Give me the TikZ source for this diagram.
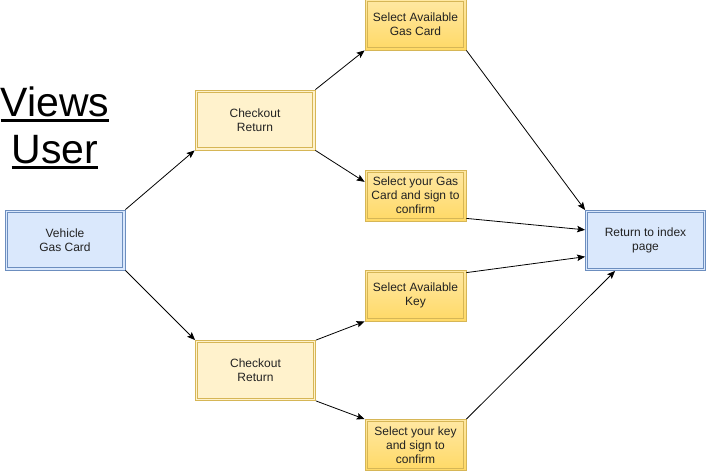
\documentclass[tikz,border=0pt]{standalone}
\usepackage{fontspec}
\setmainfont{Liberation Sans}
\usepackage{tikz}
\usetikzlibrary{shapes,positioning,calc}
\usetikzlibrary{arrows.meta}
\definecolor{bluefill}{HTML}{DAE8FC}
\definecolor{blueline}{HTML}{6C8EBF}
\definecolor{yelfill}{HTML}{FFF2CC}
\definecolor{yelline}{HTML}{D6B656}
\definecolor{yeldark}{HTML}{FFD966}
\definecolor{txt}{HTML}{222222}
\newcommand{\thickul}[1]{\setbox0=\hbox{#1}\rlap{\rule[-5.5pt]{\wd0}{3.5pt}}\box0}
\tikzset{dbl/.style={path picture={\draw[#1, line width=0.8pt] ([shift={(2.2pt,-2.2pt)}]path picture bounding box.north west) rectangle ([shift={(-2.2pt,2.2pt)}]path picture bounding box.south east);}}}
\tikzstyle{vista} = [rectangle, minimum width=120pt, minimum height=60pt, inner sep=0pt, text centered, align=center, draw=blueline, line width=0.8pt, fill=bluefill, dbl=blueline, text=txt, font=\fontsize{12}{14}\selectfont]
\tikzstyle{checkout} = [rectangle, minimum width=120pt, minimum height=60pt, inner sep=0pt, text centered, align=center, draw=yelline, line width=0.8pt, fill=yelfill, dbl=yelline, text=txt, font=\fontsize{12}{14}\selectfont]
\tikzstyle{scelta} = [rectangle, minimum width=101pt, minimum height=51pt, inner sep=0pt, text centered, align=center, draw=yelline, line width=0.8pt, top color=yelfill!60!yeldark, bottom color=yeldark, dbl=yelline, text=txt, font=\fontsize{12}{14}\selectfont]
\tikzstyle{arrow} = [line width=0.8pt,-{Stealth[length=8pt,width=6.5pt,inset=1.5pt]}]
\begin{document}
\begin{tikzpicture}[x=1pt,y=-1pt]
				\useasboundingbox (0,0) rectangle (706,472);
				\node (titolo) at (55,128) [align=center, inner sep=0pt, font=\fontsize{41}{47}\selectfont] {\thickul{Views}\\\thickul{User}};
				\node (veicolo) at (65,240) [vista] {Vehicle\\Gas Card};
				\node (ritorno) at (645.5,240.5) [vista] {Return to index\\page};
				\node (co1) at (255,120) [checkout] {Checkout\\Return};
				\node (co2) at (255.5,370.5) [checkout] {Checkout\\Return};
				\node (gas1) at (415.5,24.5) [scelta] {Select Available\\Gas Card};
				\node (gas2) at (415.5,195.5) [scelta] {Select your Gas\\Card and sign to\\confirm};
				\node (key1) at (415.5,295.5) [scelta] {Select Available\\Key};
				\node (key2) at (415.5,445) [scelta] {Select your key\\and sign to\\confirm};
				\draw [arrow] (veicolo.north east) -- (co1.south west);
				\draw [arrow] (veicolo.south east) -- (co2.north west);
				\draw [arrow] (co1.north east) -- (gas1.south west);
				\draw [arrow] (co1.south east) -- (gas2.165);
				\draw [arrow] (co2.north east) -- (key1.south west);
				\draw [arrow] (co2.south east) -- (key2.north west);
				\draw [arrow] (gas1.south east) -- (ritorno.north west);
				\draw [arrow] ([yshift=3pt]gas2.south east) -- (ritorno.170);
				\draw [arrow] ([yshift=-3pt]key1.north east) -- (ritorno.195);
				\draw [arrow] (key2.north east) -- (ritorno.225);
				\end{tikzpicture}
\end{document}
